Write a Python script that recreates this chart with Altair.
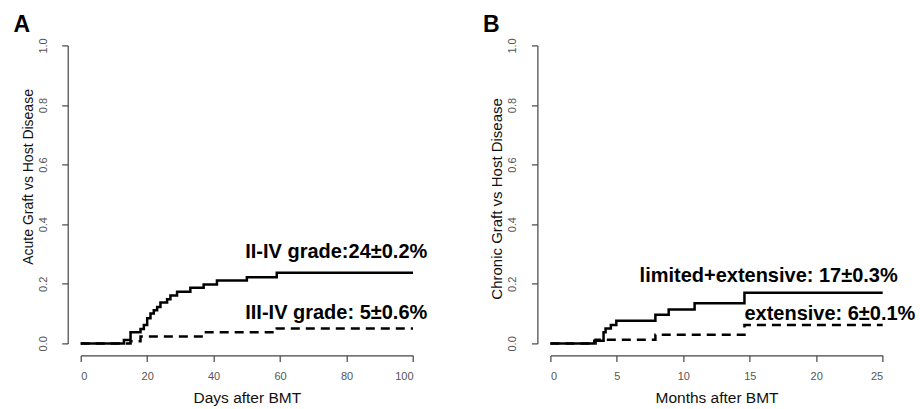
import altair as alt
import pandas as pd

FONT = "Liberation Sans"

# ---- Panel A: acute GVHD (days after BMT) ----
acute_t_2to4 = [0, 13, 15, 18, 19, 20, 21, 22, 23, 24, 26, 27, 29, 33, 37, 41, 50, 59, 100]
acute_p_2to4 = [0, 0.011, 0.037, 0.048, 0.062, 0.084, 0.100, 0.111, 0.122, 0.137,
                0.148, 0.161, 0.173, 0.187, 0.198, 0.211, 0.222, 0.237, 0.237]
acute_t_3to4 = [0, 15, 18, 37, 59, 100]
acute_p_3to4 = [0, 0.007, 0.023, 0.037, 0.050, 0.050]

# ---- Panel B: chronic GVHD (months after BMT) ----
chronic_t_all = [0, 3.3, 4.0, 4.15, 4.55, 4.96, 7.9, 8.9, 10.85, 14.6, 25]
chronic_p_all = [0, 0.009, 0.037, 0.050, 0.062, 0.076, 0.096, 0.114, 0.135, 0.170, 0.170]
chronic_t_ext = [0, 3.4, 7.9, 14.6, 25]
chronic_p_ext = [0, 0.012, 0.029, 0.062, 0.062]

acute_ticks = [0, 20, 40, 60, 80, 100]
chronic_ticks = [0, 5, 10, 15, 20, 25]
y_ticks = [0.0, 0.2, 0.4, 0.6, 0.8, 1.0]

acute_labels = ["II-IV grade:24\u00b10.2%", "III-IV grade: 5\u00b10.6%"]
acute_label_t = [104.3, 104.3]
acute_label_p = [0.288, 0.081]

chronic_labels = ["limited+extensive: 17\u00b10.3%", "extensive: 6\u00b10.1%"]
chronic_label_t = [6.71, 14.6]
chronic_label_p = [0.205, 0.077]

W = 332.3
H = 298


def panel(solid, dashed, xmax, xticks, xtitle, ytitle, ytitle_size, ytitle_y,
          labels, label_align, letter):
    x_enc = alt.X(
        "t:Q",
        scale=alt.Scale(domain=[0, xmax], nice=False, zero=False),
        axis=alt.Axis(values=xticks, title=xtitle, offset=12, tickSize=6,
                      labelPadding=9, titlePadding=9.5, titleFontSize=15.5),
    )
    y_enc = alt.Y(
        "p:Q",
        scale=alt.Scale(domain=[0, 1], nice=False, zero=False),
        axis=alt.Axis(values=y_ticks, format=".1f", title=ytitle, offset=13, tickSize=6,
                      labelAngle=-90, labelPadding=13.4, titlePadding=2,
                      titleFontSize=ytitle_size, titleY=ytitle_y),
    )
    sdf = pd.DataFrame({"t": solid[0], "p": solid[1]})
    ddf = pd.DataFrame({"t": dashed[0], "p": dashed[1]})
    ldf = pd.DataFrame({"t": labels[1], "p": labels[2], "txt": labels[0]})
    solid_line = alt.Chart(sdf).mark_line(
        interpolate="step-after", color="black", strokeWidth=2.5
    ).encode(x=x_enc, y=y_enc)
    dashed_line = alt.Chart(ddf).mark_line(
        interpolate="step-after", color="black", strokeWidth=2.5, strokeDash=[9, 6]
    ).encode(x=x_enc, y=y_enc)
    text = alt.Chart(ldf).mark_text(
        align=label_align, baseline="alphabetic", fontSize=20, fontWeight="bold",
        font=FONT, color="black"
    ).encode(x=x_enc, y=y_enc, text="txt:N")
    let = alt.Chart(pd.DataFrame({"s": [letter]})).mark_text(
        align="left", baseline="top", fontSize=23, fontWeight="bold", font=FONT, color="black"
    ).encode(x=alt.value(-67.3), y=alt.value(-31.6), text="s:N")
    return alt.layer(solid_line, dashed_line, text, let).properties(width=W, height=H)


pa = panel((acute_t_2to4, acute_p_2to4), (acute_t_3to4, acute_p_3to4), 100, acute_ticks,
           "Days after BMT", "Acute Graft vs Host Disease", 14, 131,
           (acute_labels, acute_label_t, acute_label_p), "right", "A")
pb = panel((chronic_t_all, chronic_p_all), (chronic_t_ext, chronic_p_ext), 25, chronic_ticks,
           "Months after BMT", "Chronic Graft vs Host Disease", 15, 153,
           (chronic_labels, chronic_label_t, chronic_label_p), "left", "B")

chart = alt.hconcat(pa, pb, spacing=136.7, bounds="flush").properties(
    padding={"left": 12.7, "top": 13.4, "right": 0, "bottom": 0}
).configure_view(stroke=None).configure_axis(
    grid=False, domainColor="#444444", tickColor="#444444", labelColor="#555555",
    labelFont=FONT, labelFontSize=11, titleFont=FONT, titleFontWeight="normal",
    titleColor="#111111", domainWidth=1.2, tickWidth=1.2
)

chart.save("out.html", embed_options={"renderer": "svg", "actions": False})
